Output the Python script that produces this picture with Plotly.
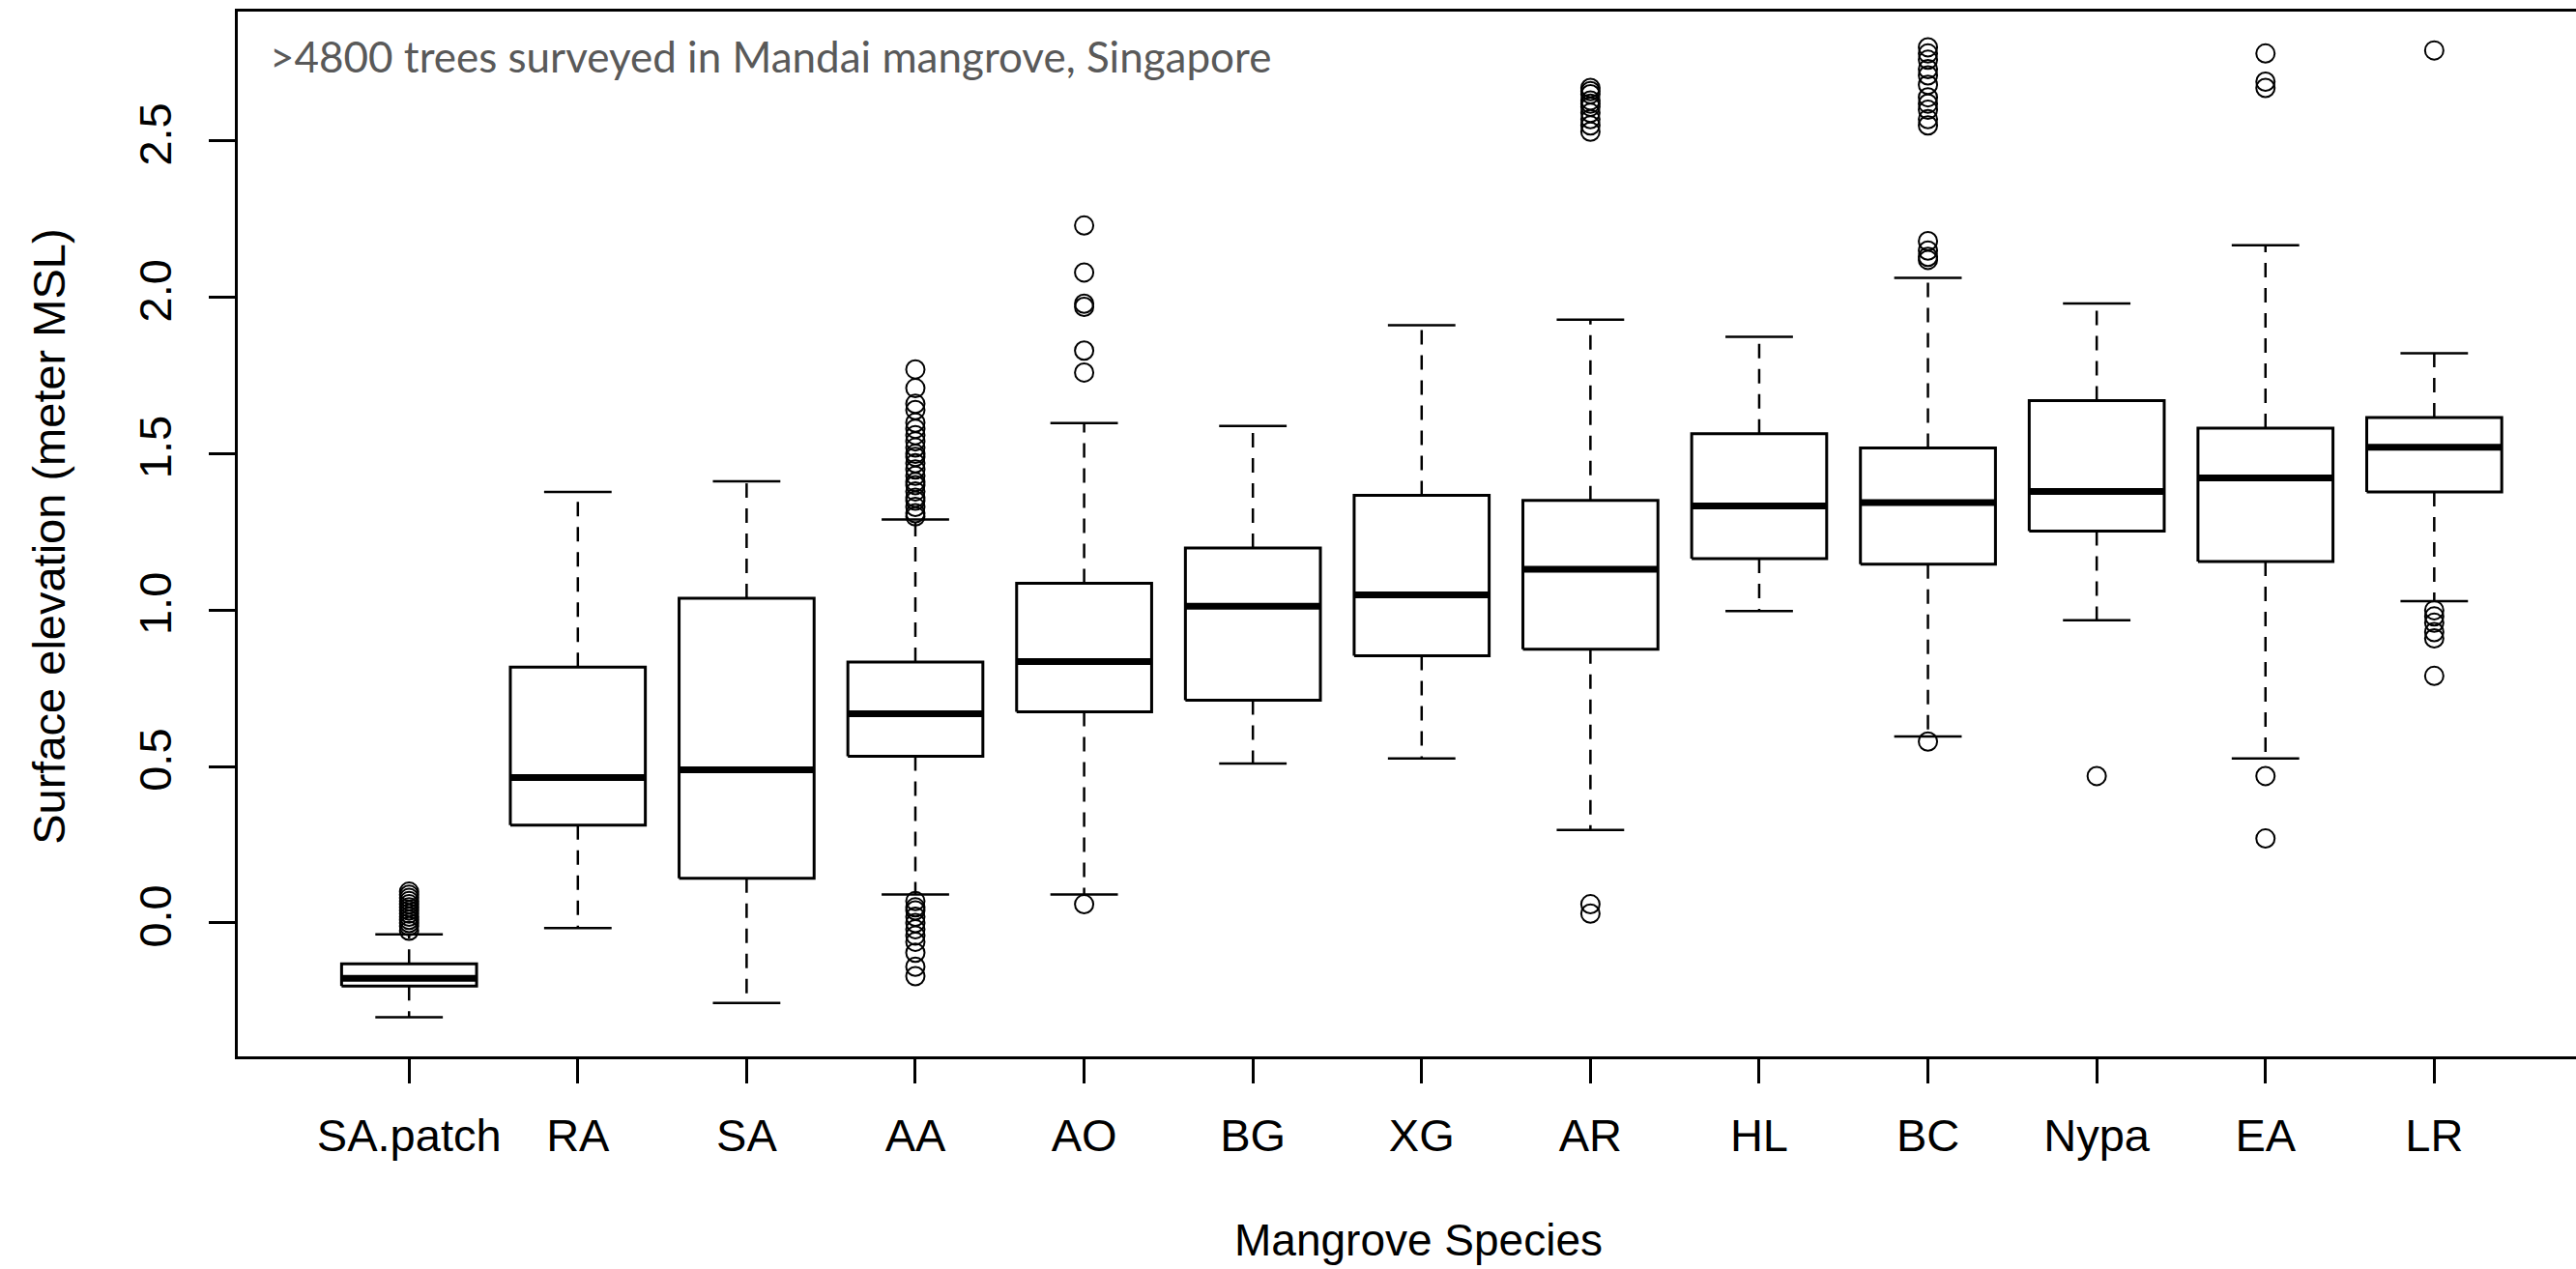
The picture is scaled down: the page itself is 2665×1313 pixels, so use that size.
import plotly.graph_objects as go

# Species, ordered by median surface elevation
categories = ["SA.patch", "RA", "SA", "AA", "AO", "BG", "XG", "AR", "HL", "BC", "Nypa", "EA", "LR"]

# Box statistics (metres above MSL)
q1 = [-0.202, 0.313, 0.143, 0.533, 0.675, 0.712, 0.854, 0.875, 1.165, 1.147, 1.253, 1.156, 1.378]
median = [-0.177, 0.465, 0.490, 0.669, 0.836, 1.013, 1.049, 1.131, 1.333, 1.344, 1.380, 1.423, 1.521]
q3 = [-0.131, 0.818, 1.038, 0.834, 1.086, 1.199, 1.367, 1.351, 1.564, 1.519, 1.670, 1.582, 1.616]
whisker_low = [-0.301, -0.016, -0.256, 0.091, 0.091, 0.510, 0.526, 0.297, 0.997, 0.596, 0.968, 0.526, 1.029]
whisker_high = [-0.036, 1.378, 1.412, 1.290, 1.598, 1.589, 1.911, 1.929, 1.874, 2.063, 1.981, 2.167, 1.822]

# Outlying trees per species
outliers = [
    [-0.025, -0.01, 0.0, 0.01, 0.02, 0.03, 0.04, 0.05, 0.06, 0.07, 0.08, 0.09, 0.10],
    [],
    [],
    [1.30, 1.31, 1.33, 1.35, 1.36, 1.38, 1.40, 1.41, 1.43, 1.45, 1.47, 1.49, 1.50, 1.52,
     1.54, 1.56, 1.58, 1.60, 1.64, 1.66, 1.71, 1.77,
     0.07, 0.05, 0.04, 0.02, 0.0, -0.02, -0.04, -0.06, -0.095, -0.14, -0.17],
    [2.23, 2.08, 1.98, 1.97, 1.83, 1.76, 0.06],
    [],
    [],
    [2.67, 2.66, 2.65, 2.63, 2.62, 2.61, 2.59, 2.57, 2.55, 2.53, 0.06, 0.03],
    [],
    [2.80, 2.78, 2.76, 2.73, 2.71, 2.68, 2.64, 2.62, 2.60, 2.57, 2.55,
     2.18, 2.15, 2.13, 2.12, 0.58],
    [0.47],
    [2.78, 2.69, 2.67, 0.47, 0.27],
    [2.79, 1.00, 0.98, 0.96, 0.93, 0.91, 0.79],
]

BOX_HALF = 0.4     # half box width in category units
CAP_HALF = 0.2     # half staple width
FONT = "Liberation Sans, Arial, sans-serif"

positions = list(range(1, len(categories) + 1))

box_x, box_y = [], []
med_x, med_y = [], []
wh_x, wh_y = [], []
cap_x, cap_y = [], []
out_x, out_y = [], []
for p, a, m, b, lo, hi, outs in zip(positions, q1, median, q3, whisker_low, whisker_high, outliers):
    box_x += [p - BOX_HALF, p + BOX_HALF, p + BOX_HALF, p - BOX_HALF, p - BOX_HALF, None]
    box_y += [a, a, b, b, a, None]
    med_x += [p - BOX_HALF, p + BOX_HALF, None]
    med_y += [m, m, None]
    wh_x += [p, p, None, p, p, None]
    wh_y += [b, hi, None, a, lo, None]
    cap_x += [p - CAP_HALF, p + CAP_HALF, None, p - CAP_HALF, p + CAP_HALF, None]
    cap_y += [hi, hi, None, lo, lo, None]
    out_x += [p] * len(outs)
    out_y += outs

fig = go.Figure()
fig.add_trace(go.Scatter(x=wh_x, y=wh_y, mode="lines",
                         line=dict(color="black", width=2.5, dash="15px,11px")))
fig.add_trace(go.Scatter(x=cap_x, y=cap_y, mode="lines",
                         line=dict(color="black", width=2.5)))
fig.add_trace(go.Scatter(x=box_x, y=box_y, mode="lines",
                         line=dict(color="black", width=3)))
fig.add_trace(go.Scatter(x=med_x, y=med_y, mode="lines",
                         line=dict(color="black", width=7)))
fig.add_trace(go.Scatter(x=out_x, y=out_y, mode="markers",
                         marker=dict(symbol="circle-open", size=19, color="black",
                                     line=dict(width=2, color="black"))))

fig.update_layout(
    width=2665, height=1313,
    margin=dict(l=246, r=0, t=12, b=220),
    paper_bgcolor="white", plot_bgcolor="white",
    showlegend=False,
    font=dict(family=FONT, size=47, color="black"),
)
fig.update_xaxes(
    range=[-0.015, 13.84],
    tickvals=positions, ticktext=categories,
    ticks="outside", ticklen=25, tickwidth=2.5, tickcolor="black",
    ticklabelstandoff=14,
    showline=True, linewidth=3, linecolor="black", mirror=True,
    showgrid=False, zeroline=False,
    tickfont=dict(family=FONT, size=47, color="black"),
)
fig.update_yaxes(
    range=[-0.4265, 2.914],
    tickvals=[0.0, 0.5, 1.0, 1.5, 2.0, 2.5],
    ticktext=["0.0", "0.5", "1.0", "1.5", "2.0", "2.5"],
    tickangle=-90,
    ticks="outside", ticklen=27, tickwidth=2.5, tickcolor="black",
    ticklabelstandoff=20,
    showline=True, linewidth=3, linecolor="black", mirror=False,
    showgrid=False, zeroline=False,
    tickfont=dict(family=FONT, size=47, color="black"),
)

fig.add_annotation(
    text=">4800 trees surveyed in Mandai mangrove, Singapore",
    xref="paper", yref="paper", x=0.0128, y=0.957,
    xanchor="left", yanchor="middle", showarrow=False,
    font=dict(family="Lato, Open Sans, sans-serif", size=44, color="#595959"),
)
fig.add_annotation(
    text="Mangrove Species",
    xref="paper", yref="paper", x=0.505, y=-0.176,
    xanchor="center", yanchor="middle", showarrow=False,
    font=dict(family=FONT, size=46, color="black"),
)
fig.add_annotation(
    text="Surface elevation (meter MSL)",
    xref="paper", yref="paper", x=-0.0806, y=0.497,
    xanchor="center", yanchor="middle", textangle=-90, showarrow=False,
    font=dict(family=FONT, size=47, color="black"),
)

fig.write_html("out.html")
